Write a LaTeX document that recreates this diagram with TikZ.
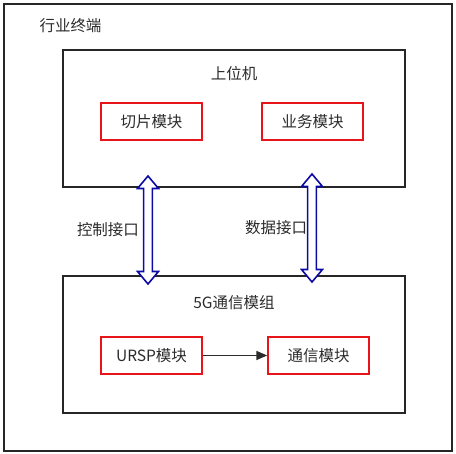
\documentclass[tikz,border=0pt]{standalone}
\usepackage{fontspec}
\usepackage{tikz}
\usetikzlibrary{positioning,shapes.arrows,arrows.meta}
\newfontfamily\cjk{Noto Sans CJK SC}
\definecolor{boxred}{HTML}{E8141A}
\definecolor{ifblue}{HTML}{0A0AA6}
\definecolor{txtgray}{HTML}{2B2B2B}
\tikzset{
  every node/.style={
    font=\cjk\fontsize{15.5pt}{17pt}\selectfont,
    text=txtgray,
    inner sep=0pt
  },
  frame/.style={draw=black!85, line width=1.4pt},
  module/.style={draw=boxred, line width=1.4pt, minimum width=101pt, minimum height=37pt},
  ifarrow/.style={double arrow, draw=ifblue, fill=white, line width=1.6pt,
    inner ysep=3.6pt, minimum width=21pt, double arrow head extend=6pt,
    double arrow tip angle=80, minimum height=108pt}
}

\begin{document}
\begin{tikzpicture}[x=1pt,y=1pt]
        \useasboundingbox (0,0) rectangle (456,454);
        \node [frame, minimum width=448pt, minimum height=447pt] (Term) at (228,226.5) {};
        \node [on grid, below right=15pt and 36pt of Term.north west] (TermTitle) {行业终端};
        \node [frame, minimum width=342pt, minimum height=137pt] (Host) at (234,335.5) {};
        \node [on grid, below=16.5pt of Host.north] (HostTitle) {上位机};
        \node [on grid, below left=3pt and 82.5pt of Host, module] (Slice) {切片模块};
        \node [on grid, below right=3pt and 78.5pt of Host, module] (Service) {业务模块};
        \node [on grid, below=226pt of Host, frame, minimum width=342pt, minimum height=137pt] (Modem) {};
        \node [on grid, below=19.5pt of Modem.north] (ModemTitle) {5G通信模组};
        \node [on grid, below left=11pt and 82.5pt of Modem, module] (URSP) {URSP模块};
        \node [on grid, below right=11pt and 84.5pt of Modem, module] (Comm) {通信模块};
        \coordinate (CtrlTop) at ([xshift=-86pt, yshift=11pt]Host.south);
        \coordinate (CtrlBot) at ([xshift=-86pt, yshift=-8pt]Modem.north);
        \coordinate (DataTop) at ([xshift=78pt, yshift=13pt]Host.south);
        \coordinate (DataBot) at ([xshift=78pt, yshift=-6pt]Modem.north);
        \path (CtrlTop) -- (CtrlBot) node [midway, sloped, ifarrow] (Ctrl) {};
        \path (DataTop) -- (DataBot) node [midway, sloped, ifarrow] (Data) {};
        \node [on grid, left=40pt of Ctrl] (CtrlLabel) {控制接口};
        \node [on grid, left=36pt of Data] (DataLabel) {数据接口};
        \draw [txtgray, line width=1.5pt, -{Triangle[length=11pt, width=9pt]}] (URSP) to (Comm);
      \end{tikzpicture}
\end{document}
